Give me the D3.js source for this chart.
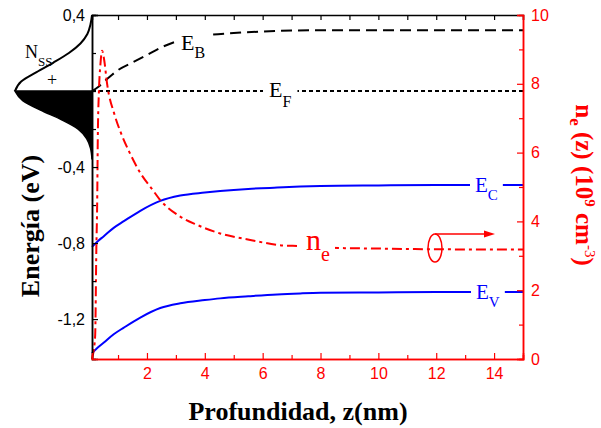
<!DOCTYPE html>
<html><head><meta charset="utf-8">
<script src="https://cdn.jsdelivr.net/npm/d3@7"></script>
<style>body{margin:0;background:#fff}svg{display:block}</style>
</head><body>
<svg id="c" width="601" height="428"></svg>
<script>
// ---- data ----
const zEB = [0.1,0.3,0.6,1.0,1.5,2.0,2.5,3.0,3.5,4.0,5.0,6.0,7.0,8.0,10,12,15];
const EB  = [0,0.02,0.06,0.11,0.15,0.19,0.23,0.26,0.28,0.293,0.305,0.313,0.318,0.32,0.32,0.32,0.32];
const zEF = [0.1,15];
const EF  = [0,0];
const zBand = [0.1,0.3,0.5,0.85,1.2,1.77,2.46,3.15,4.0,4.53,5.5,6.5,7.3,8,10,12,15];
const EC  = [-0.82,-0.79,-0.765,-0.72,-0.685,-0.63,-0.578,-0.55,-0.534,-0.526,-0.515,-0.508,-0.503,-0.5,-0.497,-0.495,-0.495];
const EV  = [-1.38,-1.35,-1.325,-1.28,-1.245,-1.192,-1.142,-1.117,-1.100,-1.091,-1.08,-1.07,-1.065,-1.062,-1.06,-1.058,-1.058];
const zNe = [0.1,0.16,0.21,0.25,0.28,0.3,0.34,0.39,0.45,0.52,0.62,0.88,1.11,1.4,1.74,2.21,2.43,3.15,3.73,4.53,5.57,6.6,7.3,8,10,12,15];
const ne  = [0,0.26,0.7,3.2,4.6,6.4,7.8,8.55,8.96,8.7,8.01,7.1,6.55,6.0,5.45,4.9,4.65,4.14,3.9,3.65,3.46,3.31,3.28,3.24,3.21,3.19,3.18];
// N_SS surface-state distribution (relative density vs energy)
const eNssUp  = [0.4,0.35,0.3,0.25,0.2,0.15,0.1,0.05,0];
const dNssUp  = [0,0.02,0.06,0.15,0.3,0.5,0.72,0.92,1];
const eNssLow = [0,-0.05,-0.1,-0.15,-0.2,-0.25,-0.3,-0.36];
const dNssLow = [1,0.9,0.67,0.4,0.18,0.07,0.02,0];
// ticks
const xMajor = [2,4,6,8,10,12,14];
const xMinor = [1,3,5,7,9,11,13,15];
const xTop = [1,2,3,4,5,6,7,8,9,10,11,12,13,14,15];
const yLMajor = [0.4,-0.4,-0.8,-1.2];
const yLLabels = ["0,4","-0,4","-0,8","-1,2"];
const yLMinor = [0.2,0,-0.2,-0.6,-1.0];
const yRMajor = [0,2,4,6,8,10];
const yRMinor = [1,3,5,7,9];

// ---- setup ----
const svg = d3.select("#c");
const RED = "#ff0000", BLUE = "#0000ff";
const SANS = "'Liberation Sans', Arial, sans-serif";
const SERIF = "'Liberation Serif', 'Times New Roman', serif";
const x = d3.scaleLinear().domain([0.1,15]).range([92,523]);
const yL = d3.scaleLinear().domain([-1.41,0.4]).range([359,15]);
const yR = d3.scaleLinear().domain([0,10]).range([359,15]);
const dS = d3.scaleLinear().domain([0,1]).range([92,15]);

// N_SS gaussian
const lowPts = eNssLow.map((e,i)=>[dS(dNssLow[i]), yL(e)]);
svg.append("path")
  .attr("d", d3.line().curve(d3.curveMonotoneY)(lowPts.slice().reverse()) + `L${dS(0)},${yL(0)}Z`)
  .attr("fill","#000").attr("stroke","#000").attr("stroke-width",1.5);
const upPts = eNssUp.map((e,i)=>[dS(dNssUp[i]), yL(e)]);
svg.append("path")
  .attr("d", d3.line().curve(d3.curveMonotoneY)(upPts.slice().reverse()))
  .attr("fill","none").attr("stroke","#000").attr("stroke-width",2);

// lines
function drawLine(zs, vs, ys, color, dash, w){
  const pts = zs.map((z,i)=>[x(z), ys(vs[i])]);
  return svg.append("path").attr("d", d3.line().curve(d3.curveMonotoneX)(pts))
    .attr("fill","none").attr("stroke",color).attr("stroke-width",w||2)
    .attr("stroke-dasharray", dash||null);
}
drawLine(zEF, EF, yL, "#000", "4,3", 2);
drawLine(zEB, EB, yL, "#000", "11,6", 2);
drawLine(zBand, EC, yL, BLUE, null, 2);
drawLine(zBand, EV, yL, BLUE, null, 2);
drawLine(zNe, ne, yR, RED, "10,4,3,4", 2);

// axes
function styleAxis(g, color, fs){
  g.select(".domain").attr("stroke", color).attr("stroke-width",1.5);
  g.selectAll(".tick line").attr("stroke", color).attr("stroke-width",1.2);
  g.selectAll(".tick text").attr("fill", color).attr("font-family", SANS).attr("font-size", fs||16);
}
// top
svg.append("g").attr("transform","translate(0,15)")
  .call(d3.axisTop(x).tickValues(xTop).tickSize(-5).tickFormat(""))
  .call(g=>styleAxis(g,"#000"));
// left
svg.append("g").attr("transform","translate(92,0)")
  .call(d3.axisLeft(yL).tickValues(yLMinor).tickSize(-4).tickFormat(""))
  .call(g=>styleAxis(g,"#000"));
svg.append("g").attr("transform","translate(92,0)")
  .call(d3.axisLeft(yL).tickValues(yLMajor).tickSize(-6).tickPadding(7)
    .tickFormat((d,i)=>yLLabels[i]))
  .call(g=>styleAxis(g,"#000"));
// right
svg.append("g").attr("transform","translate(523,0)")
  .call(d3.axisRight(yR).tickValues(yRMinor).tickSize(-4).tickFormat(""))
  .call(g=>styleAxis(g,RED));
svg.append("g").attr("transform","translate(523,0)")
  .call(d3.axisRight(yR).tickValues(yRMajor).tickSize(-6).tickPadding(8).tickFormat(d3.format("d")))
  .call(g=>styleAxis(g,RED));
// bottom
svg.append("g").attr("transform","translate(0,359)")
  .call(d3.axisBottom(x).tickValues(xMinor).tickSize(-4).tickFormat(""))
  .call(g=>styleAxis(g,RED));
svg.append("g").attr("transform","translate(0,359)")
  .call(d3.axisBottom(x).tickValues(xMajor).tickSize(-6).tickPadding(9).tickFormat(d3.format("d")))
  .call(g=>styleAxis(g,RED));

// labels with optional white background
function lab(px, py, main, sub, fs, sfs, sdy, color, bg, pad){
  const g = svg.append("g");
  const t = g.append("text").attr("x",px).attr("y",py)
    .attr("font-family",SERIF).attr("font-size",fs).attr("fill",color);
  t.append("tspan").text(main);
  if (sub) t.append("tspan").attr("font-size",sfs).attr("dy",sdy).text(sub);
  if (bg){
    const b = t.node().getBBox();
    const p = pad||3;
    g.insert("rect","text").attr("x",b.x-p).attr("y",b.y).attr("width",b.width+2*p)
      .attr("height",b.height).attr("fill","#fff");
  }
}
lab(181, 50, "E", "B", 22, 16, 8, "#000", true, 4);
lab(269, 97, "E", "F", 22, 16, 10, "#000", true, 6);
lab(475, 192, "E", "C", 21, 15, 8, BLUE, true, 5);
lab(476, 299, "E", "V", 21, 15, 8, BLUE, true, 5);
lab(306, 250, "n", "e", 30, 20, 11, RED, true, 5);
lab(25, 58, "N", "SS", 18, 13, 8, "#000", false);
svg.append("text").attr("x",52).attr("y",86).attr("text-anchor","middle")
  .attr("font-family",SERIF).attr("font-size",18).text("+");

// cylinder symbol with arrow
svg.append("ellipse").attr("cx",435).attr("cy",248).attr("rx",7).attr("ry",14)
  .attr("fill","none").attr("stroke",RED).attr("stroke-width",1.5);
svg.append("line").attr("x1",435).attr("y1",234).attr("x2",486).attr("y2",234)
  .attr("stroke",RED).attr("stroke-width",1.5);
svg.append("path").attr("d","M484,230.5L495,234L484,237.5Z").attr("fill",RED);

// axis titles
svg.append("text").attr("transform","translate(39,226) rotate(-90)")
  .attr("text-anchor","middle").attr("font-family",SERIF).attr("font-weight","bold")
  .attr("font-size",26).attr("fill","#000").text("Energía (eV)");
svg.append("text").attr("x",298).attr("y",420).attr("text-anchor","middle")
  .attr("font-family",SERIF).attr("font-weight","bold").attr("font-size",26)
  .attr("fill","#000").text("Profundidad, z(nm)");
const rt = svg.append("text").attr("transform","translate(576,185) rotate(90)")
  .attr("text-anchor","middle").attr("font-family",SERIF).attr("font-weight","bold")
  .attr("font-size",25).attr("fill",RED);
rt.append("tspan").text("n");
rt.append("tspan").attr("font-size",17).attr("dy",6).text("e");
rt.append("tspan").attr("dy",-6).text(" (z) (10");
rt.append("tspan").attr("font-size",15).attr("dy",-9).text("9");
rt.append("tspan").attr("dy",9).text(" cm");
rt.append("tspan").attr("font-size",15).attr("font-weight","normal").attr("dy",-9).text("-3");
rt.append("tspan").attr("dy",9).text(")");
</script>
</body></html>
